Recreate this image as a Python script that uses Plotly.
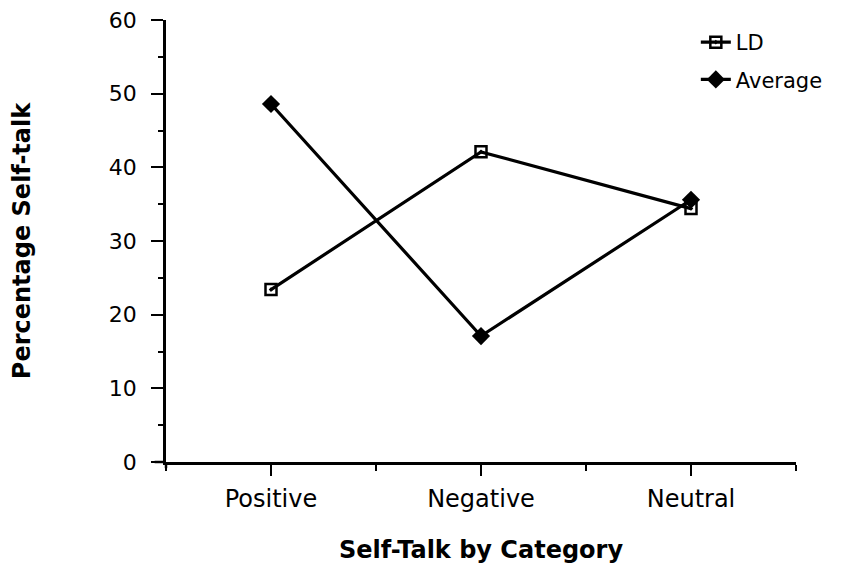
import plotly.graph_objects as go

categories = ["Positive", "Negative", "Neutral"]
ld_values = [23.4, 42.1, 34.4]
average_values = [48.6, 17.1, 35.6]
y_tick_values = [0, 10, 20, 30, 40, 50, 60]

xpos = list(range(len(categories)))
FONT = "DejaVu Sans, Liberation Sans, sans-serif"

fig = go.Figure()
fig.add_trace(go.Scatter(
    x=xpos, y=ld_values, name="LD", mode="lines+markers", legendgroup="a",
    line=dict(color="black", width=3.2),
    marker=dict(symbol="square-open-dot", size=11, color="black", line=dict(width=2.5, color="black")),
))
fig.add_trace(go.Scatter(
    x=xpos, y=average_values, name="Average", mode="lines+markers", legendgroup="b",
    line=dict(color="black", width=3.2),
    marker=dict(symbol="diamond", size=14, color="black"),
))

fig.update_layout(
    width=846, height=564,
    margin=dict(l=166, r=50, t=20, b=102),
    paper_bgcolor="white", plot_bgcolor="white",
    font=dict(family=FONT, color="black", size=21),
    showlegend=True,
    legend=dict(x=0.841, y=0.9955, xanchor="left", yanchor="top", font=dict(size=21),
                tracegroupgap=7, bgcolor="rgba(0,0,0,0)", itemwidth=30),
    xaxis=dict(
        range=[-0.5, 2.5], tickvals=xpos, ticktext=categories,
        showline=True, linecolor="black", linewidth=2.5, mirror=False,
        ticks="outside", ticklen=11, tickwidth=2, tickcolor="black",
        ticklabelstandoff=2, automargin=False,
        minor=dict(tickvals=[-0.5, 0.5, 1.5, 2.5], ticks="outside", ticklen=6, tickwidth=2, tickcolor="black"),
        showgrid=False, zeroline=False,
        title=dict(text="<b>Self-Talk by Category</b>", font=dict(size=24), standoff=30),
        tickfont=dict(size=24),
    ),
    yaxis=dict(
        range=[0, 60], tickvals=y_tick_values,
        showline=True, linecolor="black", linewidth=2.5,
        ticks="outside", ticklen=12, tickwidth=2, tickcolor="black",
        ticklabelstandoff=10, automargin=False,
        minor=dict(dtick=5, ticks="outside", ticklen=5, tickwidth=2, tickcolor="black"),
        showgrid=False, zeroline=False,
        title=dict(text="<b>Percentage Self-talk</b>", font=dict(size=24), standoff=72),
        tickfont=dict(size=22),
    ),
    shapes=[
        dict(type="line", xref="paper", yref="paper", x0=-0.018, x1=0, y0=0, y1=0,
             line=dict(color="black", width=2.5)),
        dict(type="line", xref="paper", yref="paper", x0=0, x1=0, y0=0, y1=-0.014,
             line=dict(color="black", width=2.5)),
    ],
)

fig.write_html("out.html", config={"displayModeBar": False},
               post_script="document.body.style.margin='0';")
